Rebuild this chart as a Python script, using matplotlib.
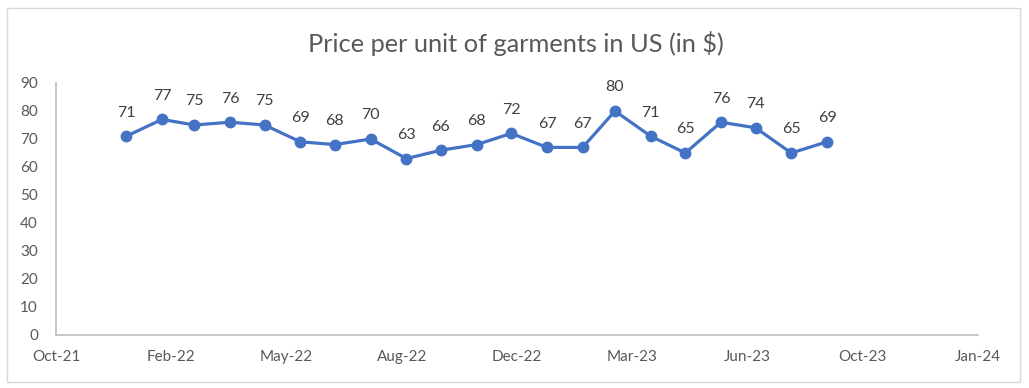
import pandas as pd
import matplotlib
matplotlib.use("Agg")
import matplotlib.pyplot as plt
import matplotlib.dates as mdates
from matplotlib.patches import Rectangle

# monthly price per unit, Dec-21 .. Aug-23
months = ["2021-12", "2022-01", "2022-02", "2022-03", "2022-04", "2022-05",
          "2022-06", "2022-07", "2022-08", "2022-09", "2022-10", "2022-11",
          "2022-12", "2023-01", "2023-02", "2023-03", "2023-04", "2023-05",
          "2023-06", "2023-07", "2023-08"]
prices = [71, 77, 75, 76, 75, 69, 68, 70, 63, 66, 68, 72, 67, 67, 80, 71,
          65, 76, 74, 65, 69]
title = "Price per unit of garments in US (in $)"

dates = pd.to_datetime(months) + pd.offsets.MonthEnd(0)
x_min = pd.Timestamp("2021-10-31")
x_ticks = [x_min + pd.Timedelta(days=100 * i) for i in range(9)]

plt.rcParams['font.family'] = ['Lato', 'DejaVu Sans']

fig = plt.figure(figsize=(10.29, 3.88), dpi=100)
fig.patches.append(Rectangle((7 / 1029, 6 / 388), 1013 / 1029, 374 / 388,
                             transform=fig.transFigure, fill=False,
                             edgecolor='#D9D9D9', lw=1))
ax = fig.add_axes([56 / 1029, 53 / 388, 922 / 1029, 252 / 388])

ax.plot(dates, prices, color='#4472C4', lw=2.3, marker='o', ms=7.5,
        markeredgecolor='#4472C4', markerfacecolor='#4472C4', zorder=3)
for d, p in zip(dates, prices):
    ax.annotate(str(p), (d, p), xytext=(0, 17), textcoords='offset points',
                ha='center', va='center', fontsize=11.5, color='#404040')

ax.set_xlim(x_min, x_ticks[-1])
ax.set_ylim(0, 90)
ax.set_yticks(range(0, 91, 10))
ax.set_xticks(x_ticks)
ax.xaxis.set_major_formatter(mdates.DateFormatter('%b-%y'))
ax.tick_params(axis='both', length=0, labelsize=11, colors='#595959')
ax.tick_params(axis='y', pad=13)
ax.tick_params(axis='x', pad=11)

for s in ['top', 'right']:
    ax.spines[s].set_visible(False)
for s in ['left', 'bottom']:
    ax.spines[s].set_color('#BFBFBF')
    ax.spines[s].set_linewidth(1.2)

fig.text(516 / 1029, 1 - 44 / 388, title, ha='center', va='center',
         fontsize=18.3, color='#595959')

fig.savefig('out.png', dpi=100)
